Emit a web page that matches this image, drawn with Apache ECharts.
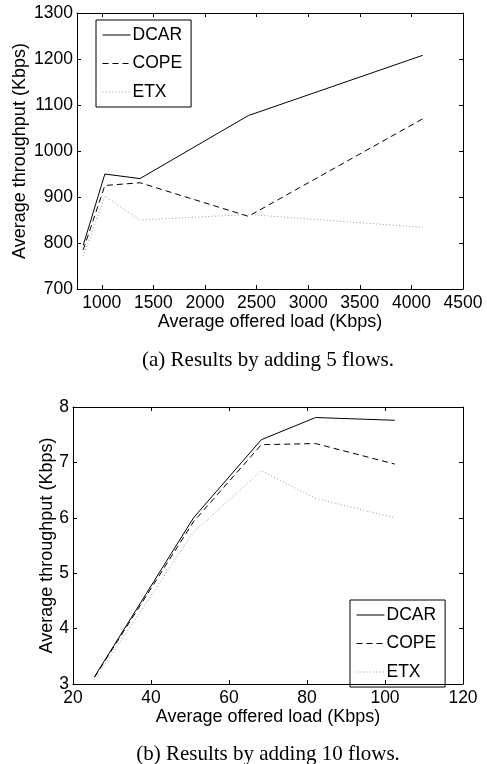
<!DOCTYPE html>
<html>
<head>
<meta charset="utf-8">
<script src="https://cdn.jsdelivr.net/npm/echarts@6/dist/echarts.min.js"></script>
<style>
  html, body { margin: 0; padding: 0; background: #fff; }
  #chart { width: 487px; height: 764px; }
</style>
</head>
<body>
<div id="chart"></div>
<script>
// (a) 5 flows
const loadA = [820, 1030, 1370, 2420, 4110];
const dcarA = [795, 950, 940, 1077, 1208];
const copeA = [785, 925, 931, 858, 1070];
const etxA = [771, 902, 850, 862, 834];
const xTicksA = [1000, 1500, 2000, 2500, 3000, 3500, 4000, 4500];

// (b) 10 flows
const loadB = [25.5, 50.9, 68.3, 82.2, 102.5];
const dcarB = [3.13, 6.0, 7.41, 7.81, 7.76];
const copeB = [3.12, 5.93, 7.32, 7.34, 6.97];
const etxB = [3.07, 5.74, 6.85, 6.35, 6.0];
const xTicksB = [20, 40, 60, 80, 100, 120];

const FONT = 'Liberation Sans, Arial, sans-serif';
const FS = 17.5;

const styles = {
  DCAR: { color: '#000', type: 'solid', width: 1 },
  COPE: { color: '#000', type: [6, 4], width: 1 },
  ETX: { color: '#9a9a9a', type: [1, 2.3], width: 1 }
};

function pairs(xs, ys) {
  return xs.map((x, i) => [x, ys[i]]);
}
const plain = v => String(v);

function mainX(grid, min, max, ticks, name, gap) {
  return {
    type: 'value', gridIndex: grid, min: min, max: max,
    name: name, nameLocation: 'middle', nameGap: gap,
    nameTextStyle: { fontFamily: FONT, fontSize: 18, color: '#000' },
    axisLine: { lineStyle: { color: '#000', width: 1 } },
    axisTick: { inside: true, length: 4, customValues: ticks, lineStyle: { color: '#000' } },
    axisLabel: { fontFamily: FONT, fontSize: FS, color: '#000', margin: 5, customValues: ticks, formatter: plain },
    splitLine: { show: false }
  };
}
function mirrorX(grid, min, max, ticks) {
  return {
    type: 'value', gridIndex: grid, position: 'top', min: min, max: max,
    axisLine: { lineStyle: { color: '#000', width: 1 } },
    axisTick: { inside: true, length: 4, customValues: ticks, lineStyle: { color: '#000' } },
    axisLabel: { show: false }, splitLine: { show: false }
  };
}
function mainY(grid, min, max, interval, gap) {
  return {
    type: 'value', gridIndex: grid, min: min, max: max, interval: interval,
    name: 'Average throughput (Kbps)', nameLocation: 'middle', nameGap: gap,
    nameMoveOverlap: false,
    nameTextStyle: { fontFamily: FONT, fontSize: 18, color: '#000' },
    axisLine: { show: true, lineStyle: { color: '#000', width: 1 } },
    axisTick: { show: true, inside: true, length: 4, lineStyle: { color: '#000' } },
    axisLabel: { fontFamily: FONT, fontSize: FS, color: '#000', margin: 4, formatter: plain },
    splitLine: { show: false }
  };
}
function mirrorY(grid, min, max, interval) {
  return {
    type: 'value', gridIndex: grid, position: 'right', min: min, max: max, interval: interval,
    axisLine: { show: true, lineStyle: { color: '#000', width: 1 } },
    axisTick: { show: true, inside: true, length: 4, lineStyle: { color: '#000' } },
    axisLabel: { show: false }, splitLine: { show: false }
  };
}
function line(name, xi, yi, data) {
  return {
    name: name, type: 'line', xAxisIndex: xi, yAxisIndex: yi, data: data,
    symbol: 'none', lineStyle: styles[name], itemStyle: { color: styles[name].color },
    animation: false
  };
}
function legend(left, top) {
  return {
    left: left, top: top, orient: 'vertical',
    data: ['DCAR', 'COPE', 'ETX'],
    itemWidth: 28, itemHeight: 14, itemGap: 10.5,
    padding: [6, 9, 6, 6],
    borderColor: '#000', borderWidth: 1,
    itemStyle: { opacity: 0 },
    lineStyle: { width: 1 },
    textStyle: { fontFamily: FONT, fontSize: FS, color: '#000', padding: [0, 0, 0, -3] },
    selectedMode: false
  };
}

const chart = echarts.init(document.getElementById('chart'));
chart.setOption({
  backgroundColor: '#fff',
  animation: false,
  grid: [
    { left: 77, top: 13, width: 386, height: 276 },
    { left: 73, top: 407, width: 390, height: 277 }
  ],
  title: [
    { text: '(a) Results by adding 5 flows.', left: 263, top: 345, textAlign: 'center',
      textStyle: { fontFamily: 'Liberation Serif, Times New Roman, serif', fontSize: 21, fontWeight: 'normal', color: '#000' } },
    { text: '(b) Results by adding 10 flows.', left: 263, top: 739, textAlign: 'center',
      textStyle: { fontFamily: 'Liberation Serif, Times New Roman, serif', fontSize: 21, fontWeight: 'normal', color: '#000' } }
  ],
  legend: [legend(96, 20), legend(350, 600)],
  xAxis: [
    mainX(0, 760, 4500, xTicksA, 'Average offered load (Kbps)', 23),
    mirrorX(0, 760, 4500, xTicksA),
    mainX(1, 20, 120, xTicksB, 'Average offered load (Kbps)', 23),
    mirrorX(1, 20, 120, xTicksB)
  ],
  yAxis: [
    mainY(0, 700, 1300, 100, 48),
    mirrorY(0, 700, 1300, 100),
    mainY(1, 3, 8, 1, 17),
    mirrorY(1, 3, 8, 1)
  ],
  series: [
    line('DCAR', 0, 0, pairs(loadA, dcarA)),
    line('COPE', 0, 0, pairs(loadA, copeA)),
    line('ETX', 0, 0, pairs(loadA, etxA)),
    line('DCAR', 2, 2, pairs(loadB, dcarB)),
    line('COPE', 2, 2, pairs(loadB, copeB)),
    line('ETX', 2, 2, pairs(loadB, etxB))
  ]
});
</script>
</body>
</html>
